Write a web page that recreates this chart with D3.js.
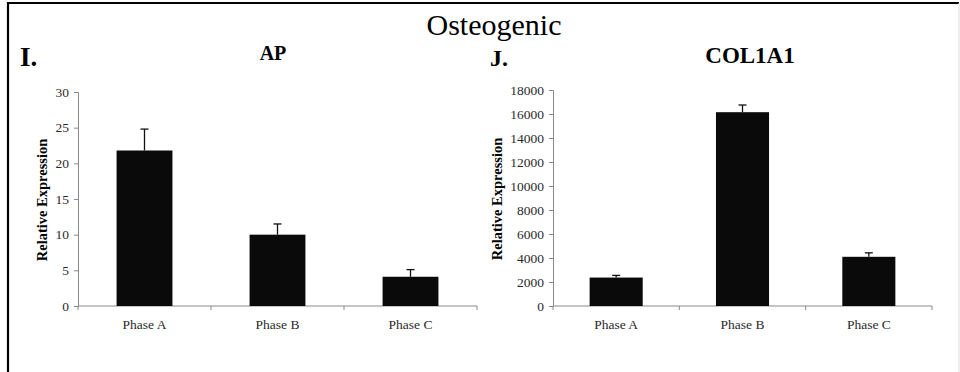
<!DOCTYPE html>
<html>
<head>
<meta charset="utf-8">
<script src="https://cdn.jsdelivr.net/npm/d3@7"></script>
<style>
  html, body { margin: 0; padding: 0; background: #fff; }
  svg { display: block; }
  svg text { font-family: "Liberation Serif", "DejaVu Serif", serif; }
</style>
</head>
<body>
<svg id="fig" width="960" height="372"></svg>
<script>
// Phases shared by both panels
const phases = ["Phase A", "Phase B", "Phase C"];

// AP relative expression (mean and upper error)
const apMean = [21.8, 10.0, 4.1];
const apErr = [3.0, 1.5, 1.0];
const apTicks = [0, 5, 10, 15, 20, 25, 30];

// COL1A1 relative expression (mean and upper error)
const colMean = [2370, 16150, 4100];
const colErr = [180, 600, 330];
const colTicks = [0, 2000, 4000, 6000, 8000, 10000, 12000, 14000, 16000, 18000];

const SERIF = "Liberation Serif, DejaVu Serif, serif";
const svg = d3.select("#fig");

// Figure frame
svg.append("path")
  .attr("d", "M8,380 L8,3 L959,3")
  .attr("fill", "none").attr("stroke", "#000").attr("stroke-width", 2.2);
svg.append("line")
  .attr("x1", 959).attr("y1", 3).attr("x2", 959).attr("y2", 372)
  .attr("stroke", "#ddd").attr("stroke-width", 1);

svg.append("text")
  .attr("x", 494).attr("y", 35)
  .attr("text-anchor", "middle")
  .attr("font-family", SERIF)
  .attr("font-size", 30)
  .text("Osteogenic");

function panel(opt) {
  const g = svg.append("g");
  const x = d3.scaleBand().domain(phases).range([opt.x0, opt.x1]).paddingInner(0.58).paddingOuter(0.29);
  const y = d3.scaleLinear().domain([0, opt.max]).range([opt.y0, opt.y1]);

  // panel letter and title
  g.append("text").attr("x", opt.letterX).attr("y", opt.letterY)
    .attr("font-family", SERIF)
    .attr("font-size", opt.letterSize).attr("font-weight", "bold").text(opt.letter);
  g.append("text").attr("x", opt.titleX).attr("y", opt.titleY)
    .attr("font-family", SERIF)
    .attr("text-anchor", "middle").attr("font-size", opt.titleSize).attr("font-weight", "bold").text(opt.title);

  // y axis
  const ya = g.append("g").attr("transform", `translate(${opt.x0},0)`)
    .call(d3.axisLeft(y).tickValues(opt.ticks).tickSize(4).tickPadding(5).tickFormat(d3.format("d")));
  ya.attr("font-family", SERIF);
  ya.select(".domain").attr("stroke", "#8a8a8a");
  ya.selectAll(".tick line").attr("stroke", "#8a8a8a");
  ya.selectAll(".tick text").attr("font-size", 13.5).attr("fill", "#2a2a2a")
    .attr("font-family", SERIF);

  // x axis with boundary ticks between categories
  const xa = g.append("g").attr("transform", `translate(0,${opt.y0})`);
  xa.append("line").attr("x1", opt.x0).attr("x2", opt.x1).attr("stroke", "#8a8a8a");
  const bounds = d3.range(phases.length + 1).map(i => opt.x0 + i * (opt.x1 - opt.x0) / phases.length);
  xa.selectAll("line.b").data(bounds).join("line").attr("class", "b")
    .attr("x1", d => d).attr("x2", d => d).attr("y1", 0).attr("y2", 4).attr("stroke", "#8a8a8a");
  xa.selectAll("text").data(phases).join("text")
    .attr("x", d => x(d) + x.bandwidth() / 2).attr("y", 23)
    .attr("font-family", SERIF)
    .attr("text-anchor", "middle").attr("font-size", 13.5).attr("fill", "#2a2a2a").text(d => d);

  // bars
  g.selectAll("rect.bar").data(opt.mean).join("rect").attr("class", "bar")
    .attr("x", (d, i) => x(phases[i])).attr("width", x.bandwidth())
    .attr("y", d => y(d)).attr("height", d => opt.y0 - y(d))
    .attr("fill", "#0a0a0a");

  // upper error bars
  const eb = g.selectAll("g.err").data(opt.mean).join("g").attr("class", "err");
  eb.append("line")
    .attr("x1", (d, i) => x(phases[i]) + x.bandwidth() / 2)
    .attr("x2", (d, i) => x(phases[i]) + x.bandwidth() / 2)
    .attr("y1", d => y(d)).attr("y2", (d, i) => y(d + opt.err[i]))
    .attr("stroke", "#111").attr("stroke-width", 1.3);
  eb.append("line")
    .attr("x1", (d, i) => x(phases[i]) + x.bandwidth() / 2 - 4)
    .attr("x2", (d, i) => x(phases[i]) + x.bandwidth() / 2 + 4)
    .attr("y1", (d, i) => y(d + opt.err[i])).attr("y2", (d, i) => y(d + opt.err[i]))
    .attr("stroke", "#111").attr("stroke-width", 1.3);

  // y axis label
  g.append("text")
    .attr("transform", `translate(${opt.labelX},${(opt.y0 + opt.y1) / 2 + 1}) rotate(-90)`)
    .attr("font-family", SERIF)
    .attr("text-anchor", "middle").attr("font-size", 14.5).attr("font-weight", "bold")
    .text("Relative Expression");
}

panel({
  x0: 78, x1: 477, y0: 306, y1: 92, max: 30, ticks: apTicks,
  mean: apMean, err: apErr,
  letter: "I.", letterX: 20, letterY: 66, letterSize: 27,
  title: "AP", titleX: 273, titleY: 60, titleSize: 20, labelX: 47
});

panel({
  x0: 553, x1: 932, y0: 306, y1: 90, max: 18000, ticks: colTicks,
  mean: colMean, err: colErr,
  letter: "J.", letterX: 490, letterY: 66, letterSize: 24,
  title: "COL1A1", titleX: 750, titleY: 63, titleSize: 23, labelX: 502
});
</script>
</body>
</html>
